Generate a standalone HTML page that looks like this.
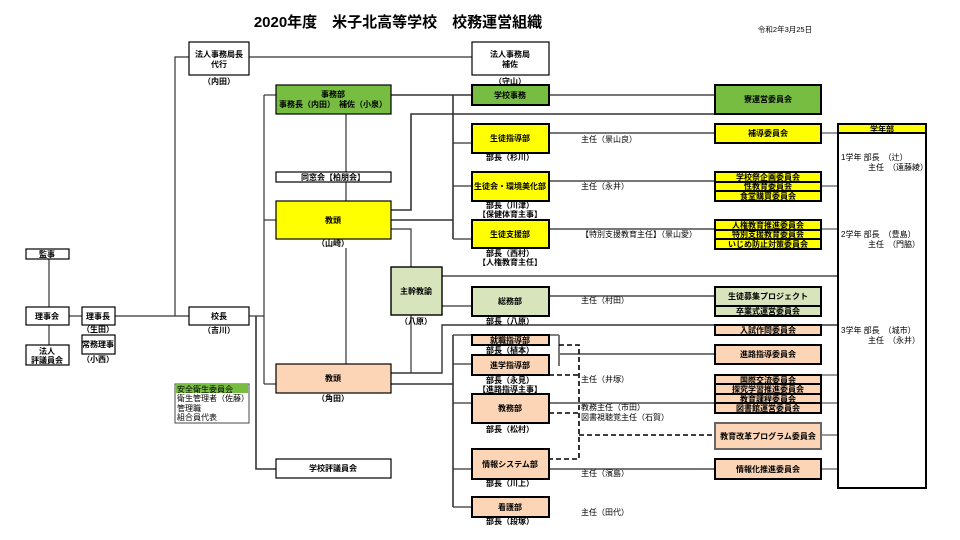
<!DOCTYPE html>
<html><head><meta charset="utf-8"><style>
html,body{margin:0;padding:0;background:#fff;}
svg{display:block;font-family:"Liberation Sans","Noto Sans CJK JP",sans-serif;}
text{font-size:8px;fill:#000;}
.c{text-anchor:middle;}
.b{font-weight:bold;}
</style></head><body>
<svg width="960" height="540" viewBox="0 0 960 540" xmlns="http://www.w3.org/2000/svg">
<!-- title -->
<text x="398" y="27" class="c b" style="font-size:15px">2020年度　米子北高等学校　校務運営組織</text>
<text x="785" y="32" class="c" style="font-size:7.5px">令和2年3月25日</text>

<g fill="none" stroke="#333" stroke-width="1.2">
<!-- left lines -->
<line x1="49" y1="258" x2="49" y2="307"/>
<line x1="49" y1="325" x2="49" y2="345"/>
<line x1="69" y1="316" x2="82" y2="316"/>
<line x1="115" y1="316" x2="189" y2="316"/>
<polyline points="189,57 175,57 175,316"/>
<line x1="249" y1="57" x2="472" y2="57"/>
<polyline points="249,316 264,316"/>
<line x1="264" y1="95" x2="264" y2="384"/>
<line x1="264" y1="95" x2="276" y2="95"/>
<line x1="264" y1="220" x2="276" y2="220"/>
<line x1="264" y1="384" x2="276" y2="384"/>
<polyline points="256,316 256,469 276,469" stroke-width="1.6"/>
<line x1="346" y1="114" x2="346" y2="201"/>
<line x1="346" y1="248" x2="346" y2="364"/>
<!-- mid -->
<line x1="391" y1="95" x2="472" y2="95" stroke-width="1.6"/>
<line x1="453" y1="95" x2="453" y2="239" stroke-width="1.6"/>
<line x1="453" y1="143" x2="472" y2="143"/>
<line x1="453" y1="186" x2="472" y2="186"/>
<line x1="453" y1="239" x2="472" y2="239"/>
<line x1="391" y1="220" x2="453" y2="220" stroke-width="1.6"/>
<polyline points="391,210 411,210 411,114 822,114" stroke-width="1.6"/>
<polyline points="391,229 411,229 411,267"/>
<line x1="442" y1="276" x2="838" y2="276" stroke="#777" stroke-width="2"/>
<line x1="442" y1="306" x2="472" y2="306"/>
<line x1="411" y1="315" x2="411" y2="373"/>
<polyline points="391,373 442,373 442,325 838,325" stroke-width="1.4"/>
<line x1="391" y1="384" x2="453" y2="384" stroke-width="1.6"/>
<line x1="453" y1="335" x2="453" y2="507" stroke-width="1.6"/>
<line x1="453" y1="335" x2="559" y2="335"/>
<line x1="559" y1="335" x2="559" y2="366" stroke="#777" stroke-width="2"/>
<line x1="453" y1="364" x2="472" y2="364"/>
<line x1="453" y1="403" x2="472" y2="403"/>
<line x1="453" y1="469" x2="472" y2="469"/>
<line x1="453" y1="507" x2="472" y2="507"/>
<!-- department to committee -->
<g stroke="#777" stroke-width="2">
<line x1="549" y1="95" x2="715" y2="95"/>
<line x1="549" y1="133" x2="715" y2="133"/>
<line x1="549" y1="181" x2="715" y2="181"/>
<line x1="549" y1="229" x2="715" y2="229"/>
<line x1="549" y1="296" x2="715" y2="296"/>
<line x1="559" y1="354" x2="715" y2="354"/>
<line x1="549" y1="403" x2="715" y2="403"/>
<line x1="549" y1="469" x2="715" y2="469"/>
</g>
<!-- committee to grade -->
<g stroke="#333" stroke-width="1">
<line x1="821" y1="133" x2="838" y2="133"/>
<line x1="821" y1="186" x2="838" y2="186"/>
<line x1="821" y1="229" x2="838" y2="229"/>
<line x1="821" y1="375" x2="838" y2="375"/>
<line x1="821" y1="403" x2="838" y2="403"/>
<line x1="821" y1="435" x2="838" y2="435"/>
<line x1="821" y1="469" x2="838" y2="469"/>
</g>
<!-- dashed -->
<g stroke="#000" stroke-width="1.6" stroke-dasharray="5,3">
<polyline points="559,345 579,345 579,459 549,459"/>
<line x1="549" y1="375" x2="579" y2="375"/>
<line x1="549" y1="413" x2="579" y2="413"/>
<line x1="579" y1="435" x2="715" y2="435"/>
</g>
</g>

<!-- boxes -->
<g stroke="#000" stroke-width="1.2" fill="#fff">
<rect x="26" y="249" width="43" height="10"/>
<rect x="26" y="307" width="43" height="18"/>
<rect x="82" y="307" width="33" height="18"/>
<rect x="82" y="335" width="33" height="19"/>
<rect x="26" y="345" width="43" height="20"/>
<rect x="189" y="42" width="60" height="33"/>
<rect x="189" y="307" width="60" height="18"/>
<rect x="472" y="42" width="77" height="33"/>
<rect x="276" y="172" width="115" height="10"/>
<rect x="276" y="459" width="115" height="19"/>
<rect x="175" y="384" width="74" height="39" stroke="#666"/>
<rect x="176" y="384" width="72" height="9" fill="#76bd42" stroke="none"/>
</g>
<g stroke="#000" stroke-width="2">
<!-- green -->
<rect x="276" y="85" width="115" height="29" fill="#76bd42" stroke-width="1.2"/>
<rect x="472" y="85" width="77" height="20" fill="#76bd42"/>
<rect x="715" y="85" width="106" height="29" fill="#76bd42"/>
<!-- yellow -->
<rect x="276" y="201" width="115" height="38" fill="#ffff00" stroke-width="1.2"/>
<rect x="472" y="124" width="77" height="29" fill="#ffff00"/>
<rect x="472" y="172" width="77" height="29" fill="#ffff00"/>
<rect x="472" y="220" width="77" height="28" fill="#ffff00"/>
<rect x="715" y="124" width="106" height="19" fill="#ffff00"/>
<rect x="715" y="172" width="106" height="29" fill="#ffff00"/>
<line x1="715" y1="182" x2="821" y2="182"/><line x1="715" y1="191" x2="821" y2="191"/>
<rect x="715" y="220" width="106" height="29" fill="#ffff00"/>
<line x1="715" y1="230" x2="821" y2="230"/><line x1="715" y1="239" x2="821" y2="239"/>
<!-- light green -->
<rect x="391" y="267" width="51" height="48" fill="#d7e4bc" stroke-width="1.4"/>
<rect x="472" y="287" width="77" height="29" fill="#d7e4bc"/>
<rect x="715" y="287" width="106" height="29" fill="#d7e4bc"/>
<line x1="715" y1="306" x2="821" y2="306"/>
<!-- peach -->
<rect x="276" y="364" width="115" height="29" fill="#fbd5b5" stroke-width="1.2"/>
<rect x="472" y="335" width="77" height="10" fill="#fbd5b5"/>
<rect x="472" y="355" width="77" height="20" fill="#fbd5b5"/>
<rect x="472" y="394" width="77" height="29" fill="#fbd5b5"/>
<rect x="472" y="449" width="77" height="30" fill="#fbd5b5"/>
<rect x="472" y="497" width="77" height="20" fill="#fbd5b5"/>
<rect x="715" y="325" width="106" height="10" fill="#fbd5b5"/>
<rect x="715" y="345" width="106" height="19" fill="#fbd5b5"/>
<rect x="715" y="375" width="106" height="38" fill="#fbd5b5"/>
<line x1="715" y1="384" x2="821" y2="384"/><line x1="715" y1="394" x2="821" y2="394"/><line x1="715" y1="403" x2="821" y2="403"/>
<rect x="715" y="423" width="106" height="26" fill="#fbd5b5" stroke="#666"/>
<rect x="715" y="459" width="106" height="20" fill="#fbd5b5"/>
<!-- grade -->
<rect x="838" y="124" width="88" height="364" fill="#fff"/>
<rect x="838" y="124" width="88" height="9" fill="#ffff00"/>
</g>

<!-- text -->
<g class="b">
<text x="47" y="257" class="c">監事</text>
<text x="47" y="319" class="c">理事会</text>
<text x="98" y="319" class="c">理事長</text>
<text x="98" y="332" class="c">（生田）</text>
<text x="98" y="347" class="c">常務理事</text>
<text x="98" y="362" class="c">（小西）</text>
<text x="47" y="354" class="c">法人</text>
<text x="47" y="363" class="c">評議員会</text>
<text x="219" y="57" class="c">法人事務局長</text>
<text x="219" y="67" class="c">代行</text>
<text x="219" y="84" class="c">（内田）</text>
<text x="219" y="319" class="c">校長</text>
<text x="219" y="333" class="c">（吉川）</text>
<text x="510" y="57" class="c">法人事務局</text>
<text x="510" y="67" class="c">補佐</text>
<text x="510" y="84" class="c">（守山）</text>
<text x="333" y="97" class="c">事務部</text>
<text x="333" y="107" class="c">事務長（内田）　補佐（小泉）</text>
<text x="333" y="180" class="c">同窓会【柏朋会】</text>
<text x="333" y="223" class="c">教頭</text>
<text x="333" y="246" class="c">（山崎）</text>
<text x="333" y="381" class="c">教頭</text>
<text x="333" y="401" class="c">（角田）</text>
<text x="333" y="471" class="c">学校評議員会</text>
<text x="416" y="294" class="c">主幹教諭</text>
<text x="416" y="324" class="c">（八原）</text>
<text x="510" y="98" class="c">学校事務</text>
<text x="768" y="102" class="c">寮運営委員会</text>
<text x="510" y="141" class="c">生徒指導部</text>
<text x="510" y="160" class="c">部長（杉川）</text>
<text x="510" y="189" class="c">生徒会・環境美化部</text>
<text x="510" y="208" class="c">部長（川津）</text>
<text x="510" y="217" class="c">【保健体育主事】</text>
<text x="510" y="237" class="c">生徒支援部</text>
<text x="510" y="256" class="c">部長（西村）</text>
<text x="510" y="265" class="c">【人権教育主任】</text>
<text x="510" y="304" class="c">総務部</text>
<text x="510" y="324" class="c">部長（八原）</text>
<text x="510" y="343" class="c">就職指導部</text>
<text x="510" y="353" class="c">部長（植本）</text>
<text x="510" y="368" class="c">進学指導部</text>
<text x="510" y="383" class="c">部長（永見）</text>
<text x="510" y="392" class="c">【進路指導主事】</text>
<text x="510" y="411" class="c">教務部</text>
<text x="510" y="432" class="c">部長（松村）</text>
<text x="510" y="467" class="c">情報システム部</text>
<text x="510" y="486" class="c">部長（川上）</text>
<text x="510" y="510" class="c">看護部</text>
<text x="510" y="524" class="c">部長（段塚）</text>
<text x="768" y="136" class="c">補導委員会</text>
<text x="768" y="180" class="c">学校祭企画委員会</text>
<text x="768" y="189" class="c">性教育委員会</text>
<text x="768" y="199" class="c">食堂購買委員会</text>
<text x="768" y="228" class="c">人権教育推進委員会</text>
<text x="768" y="237" class="c">特別支援教育委員会</text>
<text x="768" y="247" class="c">いじめ防止対策委員会</text>
<text x="768" y="299" class="c">生徒募集プロジェクト</text>
<text x="768" y="314" class="c">卒業式運営委員会</text>
<text x="768" y="333" class="c">入試作問委員会</text>
<text x="768" y="357" class="c">進路指導委員会</text>
<text x="768" y="383" class="c">国際交流委員会</text>
<text x="768" y="392" class="c">探究学習推進委員会</text>
<text x="768" y="402" class="c">教育課程委員会</text>
<text x="768" y="411" class="c">図書館運営委員会</text>
<text x="768" y="439" class="c">教育改革プログラム委員会</text>
<text x="768" y="472" class="c">情報化推進委員会</text>
<text x="882" y="132" class="c">学年部</text>
</g>
<g>
<text x="177" y="392">安全衛生委員会</text>
<text x="177" y="401">衛生管理者（佐藤）</text>
<text x="177" y="411">管理職</text>
<text x="177" y="420">組合員代表</text>
<text x="581" y="142">主任（景山良）</text>
<text x="581" y="189">主任（永井）</text>
<text x="581" y="237">【特別支援教育主任】（景山愛）</text>
<text x="581" y="303">主任（村田）</text>
<text x="581" y="382">主任（井塚）</text>
<text x="581" y="410">教務主任（市田）</text>
<text x="581" y="420">図書視聴覚主任（石賀）</text>
<text x="581" y="476">主任（濱島）</text>
<text x="581" y="515">主任（田代）</text>
<text x="841" y="160">1学年  部長　（辻）</text>
<text x="868" y="170">主任　（遠藤綾）</text>
<text x="841" y="237">2学年  部長　（豊島）</text>
<text x="868" y="247">主任　（門脇）</text>
<text x="841" y="333">3学年  部長　（城市）</text>
<text x="868" y="343">主任　（永井）</text>
</g>
</svg>
</body></html>
